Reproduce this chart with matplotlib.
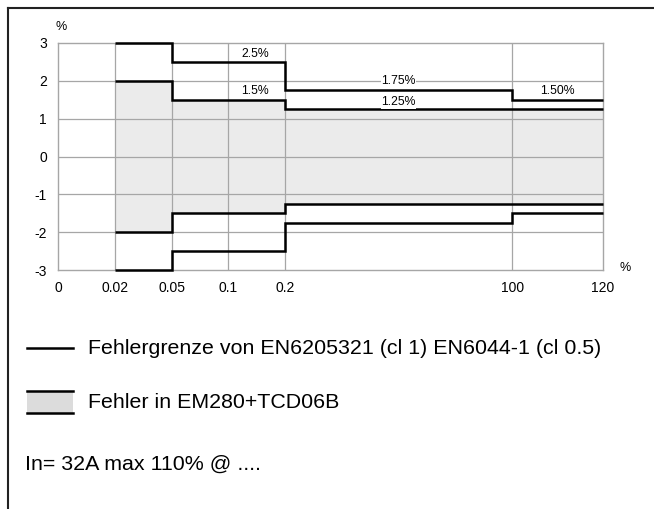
import numpy as np
import matplotlib
matplotlib.use("Agg")
import matplotlib.pyplot as plt
from matplotlib.lines import Line2D
from matplotlib.patches import Rectangle

plt.rcParams['font.family'] = ['Liberation Sans', 'DejaVu Sans']
plt.rcParams['axes.unicode_minus'] = False

# x axis: real current values and their tick labels
tick_values = [0, 0.02, 0.05, 0.1, 0.2, 100, 120]
tick_labels = ['0', '0.02', '0.05', '0.1', '0.2', '100', '120']
y_ticks = [-3, -2, -1, 0, 1, 2, 3]

# step edges and segment values (%)
edges = [0.02, 0.05, 0.2, 100, 120]
limit_upper = [3, 2.5, 1.75, 1.5]        # EN norm limits
device_upper = [2, 1.5, 1.25, 1.25]      # EM280+TCD06B error

# value labels: (x, y, text)
value_labels = [
    (0.147, 2.71, '2.5%'),
    (0.147, 1.73, '1.5%'),
    (50, 2.0, '1.75%'),
    (50, 1.44, '1.25%'),
    (110, 1.73, '1.50%'),
]

legend_line_text = 'Fehlergrenze von EN6205321 (cl 1) EN6044-1 (cl 0.5)'
legend_fill_text = 'Fehler in EM280+TCD06B'
note_text = 'In= 32A max 110% @ ....'

# piecewise scale so the small currents get room
scale_pos = [0, 1, 2, 3, 4, 8, 9.6]
def fwd(x):
    return np.interp(x, tick_values, scale_pos)
def inv(p):
    return np.interp(p, scale_pos, tick_values)

W, H = 654, 509
fig = plt.figure(figsize=(W / 100, H / 100), dpi=100)
ax = fig.add_axes([58 / W, 1 - 270 / H, (603 - 58) / W, (270 - 43) / H])
ax.set_xscale('function', functions=(fwd, inv))
ax.set_xlim(0, 120)
ax.set_ylim(-3, 3)

grid_c = '#a6a6a6'
for s in ax.spines.values():
    s.set_color(grid_c)
    s.set_linewidth(1.0)
for xv in tick_values[1:-1]:
    ax.axvline(xv, color=grid_c, lw=0.9, zorder=0.5)
for yv in y_ticks[1:-1]:
    ax.axhline(yv, color=grid_c, lw=0.9, zorder=0.5)

dev_up = np.array(device_upper)
lim_up = np.array(limit_upper)
ax.stairs(dev_up, edges, baseline=-dev_up, fill=True, color='#ebebeb', zorder=0.3)
for vals in (lim_up, -lim_up, dev_up, -dev_up):
    ax.stairs(vals, edges, baseline=None, color='black', lw=1.8, zorder=3, clip_on=False)

for x, y, t in value_labels:
    ax.text(x, y, t, ha='center', va='center', fontsize=8.8, zorder=4,
            bbox=dict(boxstyle='square,pad=0.05', fc='white', ec='none'))

ax.set_xticks(tick_values)
ax.set_xticklabels(tick_labels)
ax.set_yticks(y_ticks)
ax.tick_params(length=0, labelsize=10, pad=8)

fig.text(61 / W, 1 - 27 / H, '%', ha='center', va='center', fontsize=9)
fig.text(625 / W, 1 - 268 / H, '%', ha='center', va='center', fontsize=9)

# outer frame (top and left edge only)
fig.add_artist(Line2D([8 / W, 8 / W], [0, 1 - 8 / H], color='#222222', lw=1.5))
fig.add_artist(Line2D([8 / W, 1], [1 - 8 / H, 1 - 8 / H], color='#222222', lw=1.5))

# legend drawn by hand
fig.add_artist(Line2D([27 / W, 73 / W], [1 - 348 / H, 1 - 348 / H], color='black', lw=1.8))
fig.add_artist(Rectangle((27 / W, 1 - 413 / H), 46 / W, 22 / H, fc='#dcdcdc', ec='none'))
fig.add_artist(Line2D([27 / W, 73 / W], [1 - 391 / H, 1 - 391 / H], color='black', lw=1.8))
fig.add_artist(Line2D([27 / W, 73 / W], [1 - 413 / H, 1 - 413 / H], color='black', lw=1.8))
fig.text(88 / W, 1 - 348 / H, legend_line_text, ha='left', va='center', fontsize=15.4)
fig.text(88 / W, 1 - 403 / H, legend_fill_text, ha='left', va='center', fontsize=15.4)
fig.text(25 / W, 1 - 464 / H, note_text, ha='left', va='center', fontsize=15.4)

fig.savefig('out.png', dpi=100)
